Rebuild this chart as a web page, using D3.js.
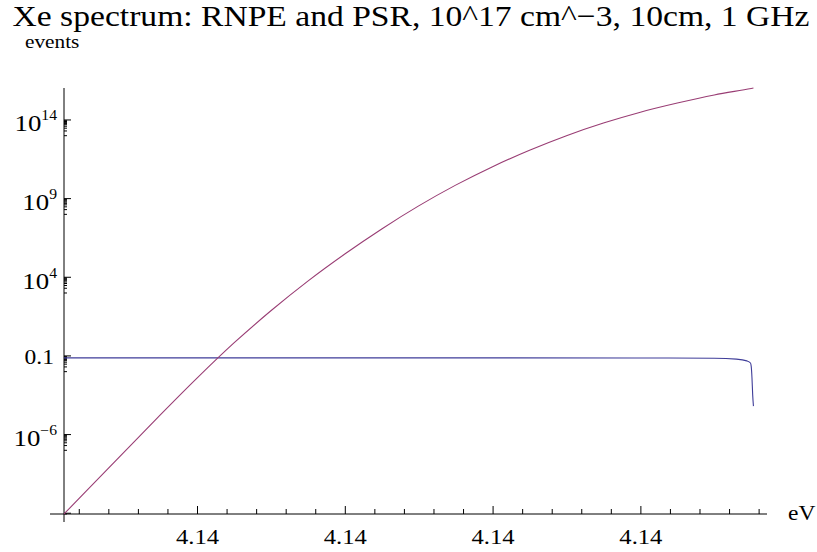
<!DOCTYPE html>
<html>
<head>
<meta charset="utf-8">
<script src="https://cdn.jsdelivr.net/npm/d3@7"></script>
<style>
  html, body { margin: 0; padding: 0; background: #fff; }
  svg { display: block; }
</style>
</head>
<body>
<svg id="chart" width="817" height="552"></svg>
<script>
// Photon energy (eV) and event counts for the two spectra
const energyRNPE = [4.140002, 4.14002, 4.14004, 4.14006, 4.14008, 4.14009,
  4.140093, 4.1400944, 4.1400949, 4.140095, 4.1400951, 4.1400952, 4.1400953];
const eventsRNPE = [0.07, 0.07, 0.07, 0.07, 0.069, 0.066,
  0.058, 0.045, 0.033, 0.02, 0.004, 3e-4, 6e-5];

const energyPSR = [4.140002, 4.140005, 4.14001, 4.140015, 4.14002, 4.140025,
  4.14003, 4.140035, 4.14004, 4.140045, 4.14005, 4.140055, 4.14006, 4.140065,
  4.14007, 4.140075, 4.14008, 4.140085, 4.14009, 4.140095, 4.1400953];
const eventsPSR = [8.3e-12, 2.37e-10, 6.2e-8, 1.6e-5, 3.6e-3, 0.62,
  69, 5.3e3, 2.8e5, 1.1e7, 3.2e8, 6.7e9, 1.0e11, 1.1e12,
  9.3e12, 5.9e13, 2.9e14, 1.1e15, 3.6e15, 9.4e15, 1.0e16];

// Axis ticks
const xMajorTicks = [4.14002, 4.14004, 4.14006, 4.14008];
const xMinorStep = 0.000004;
const yMajorExponents = [-11, -6, -1, 4, 9, 14];
const yTickLabels = { "-6": ["10", "\u22126"], "-1": ["0.1"], "4": ["10", "4"], "9": ["10", "9"], "14": ["10", "14"] };

const titleText = "Xe spectrum: RNPE and PSR, 10^17 cm^\u22123, 10cm, 1 GHz";
const colors = { RNPE: "rgb(63,61,153)", PSR: "rgb(153,61,116)" };

const SERIF = '"Liberation Serif", "DejaVu Serif", serif';
const STRETCH = 1.12;   // glyphs are drawn slightly wide

const svg = d3.select("#chart");

const x = d3.scaleLinear().domain([4.140002, 4.140097]).range([64, 766]);
const y = d3.scaleLog().domain([8.3e-12, 1e16]).range([514, 88]);

const x0 = x.range()[0], yBase = y.range()[0];

// Axis lines, extending slightly past the crossing point
svg.append("line").attr("x1", x0 - 14).attr("x2", x.range()[1] + 1)
  .attr("y1", yBase).attr("y2", yBase).attr("stroke", "#000").attr("stroke-width", 1);
svg.append("line").attr("x1", x0).attr("x2", x0)
  .attr("y1", y.range()[1]).attr("y2", yBase + 8).attr("stroke", "#000").attr("stroke-width", 1);

// X axis: major and minor ticks pointing into the plot
const xMinor = d3.range(1, 25).map(i => 4.14 + i * xMinorStep)
  .filter(v => !xMajorTicks.some(m => Math.abs(m - v) < 1e-9));

const gxM = svg.append("g").attr("transform", `translate(0,${yBase})`)
  .call(d3.axisBottom(x).tickValues(xMajorTicks).tickSize(-8).tickPadding(0)
    .tickFormat(d3.format(".2f")));
gxM.select(".domain").remove();
gxM.selectAll(".tick line").attr("stroke", "#000");
gxM.selectAll(".tick text")
  .attr("y", null).attr("dy", null)
  .attr("transform", `translate(0,30) scale(${STRETCH},1)`)
  .style("font-family", SERIF).style("font-size", "22px").attr("fill", "#000");

const gxm = svg.append("g").attr("transform", `translate(0,${yBase})`)
  .call(d3.axisBottom(x).tickValues(xMinor).tickSize(-5).tickFormat(() => ""));
gxm.select(".domain").remove();
gxm.selectAll(".tick line").attr("stroke", "#000");

// Y axis: decade ticks every five powers of ten, with minor ticks below each
const yMajor = yMajorExponents.map(p => Math.pow(10, p));
const yMinor = [];
yMajorExponents.forEach(p => {
  for (let k = 1; k <= 9; k++) {
    const v = k * Math.pow(10, p - 1);
    if (v >= y.domain()[0] && v <= y.domain()[1]) yMinor.push(v);
  }
});

const gym = svg.append("g").attr("transform", `translate(${x0},0)`)
  .call(d3.axisLeft(y).tickValues(yMinor).tickSize(-3).tickFormat(() => ""));
gym.select(".domain").remove();
gym.selectAll(".tick line").attr("stroke", "#000");

const gyM = svg.append("g").attr("transform", `translate(${x0},0)`)
  .call(d3.axisLeft(y).tickValues(yMajor).tickSize(-7).tickFormat(() => ""));
gyM.select(".domain").remove();
gyM.selectAll(".tick line").attr("stroke", "#000");
gyM.selectAll(".tick text").each(function (d) {
  const p = Math.round(Math.log10(d));
  const parts = yTickLabels[String(p)];
  const t = d3.select(this).attr("x", null).attr("dy", null).attr("fill", "#000")
    .style("font-family", SERIF);
  if (!parts) return;
  if (parts.length === 1) {
    t.attr("transform", `translate(-10,8.5) scale(${STRETCH},1)`).style("font-size", "21px")
      .append("tspan").text(parts[0]);
  } else {
    t.attr("transform", `translate(-7,11.5) scale(${STRETCH},1)`).style("font-size", "24px");
    t.append("tspan").text(parts[0]);
    t.append("tspan").style("font-size", "14px").attr("dy", -11).text(parts[1]);
  }
});

// Spectra
const line = d3.line().x(d => x(d[0])).y(d => y(d[1])).curve(d3.curveMonotoneX);
svg.append("path").datum(d3.zip(energyRNPE, eventsRNPE))
  .attr("d", line).attr("fill", "none").attr("stroke", colors.RNPE).attr("stroke-width", 1.1);
svg.append("path").datum(d3.zip(energyPSR, eventsPSR))
  .attr("d", line).attr("fill", "none").attr("stroke", colors.PSR).attr("stroke-width", 1.1);

// Title and axis names
function label(px, py, size, anchor, str) {
  return svg.append("text")
    .attr("transform", `translate(${px},${py}) scale(${STRETCH},1)`)
    .attr("text-anchor", anchor).attr("fill", "#000")
    .style("font-family", SERIF).style("font-size", size + "px").text(str);
}
label(411, 25.5, 30, "middle", titleText);
label(25, 48, 19, "start", "events");
label(788, 520, 21, "start", "eV");
</script>
</body>
</html>
